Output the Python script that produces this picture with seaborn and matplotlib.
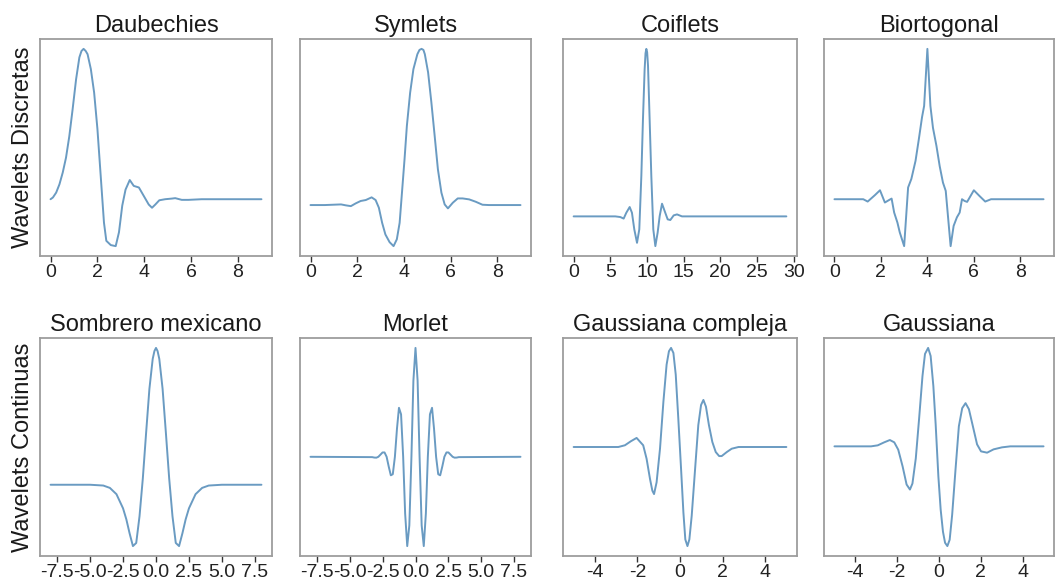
import matplotlib
matplotlib.use("Agg")
import matplotlib.pyplot as plt
import seaborn as sns

# ---------------- data ----------------
daub_x = [0.0, 0.10, 0.24, 0.38, 0.52, 0.66, 0.80, 0.94, 1.09, 1.23, 1.32, 1.41, 1.50, 1.58, 1.72, 1.86,
          2.00, 2.14, 2.28, 2.38, 2.57, 2.78, 2.92, 3.06, 3.20, 3.38, 3.55, 3.77, 3.98, 4.19,
          4.33, 4.47, 4.64, 4.89, 5.18, 5.32, 5.60, 5.88, 6.45, 9.0]
daub_y = [0.0, 0.016, 0.062, 0.14, 0.25, 0.39, 0.59, 0.84, 1.125, 1.33, 1.39, 1.41, 1.39, 1.36, 1.22, 1.0,
          0.66, 0.22, -0.22, -0.39, -0.43, -0.44, -0.31, -0.06, 0.09, 0.18, 0.125, 0.11, 0.03, -0.05,
          -0.08, -0.05, -0.01, 0.0, 0.006, 0.01, -0.006, -0.006, 0.0, 0.0]

sym_x = [0.0, 0.61, 1.31, 1.52, 1.73, 1.94, 2.15, 2.37, 2.62, 2.79, 2.93, 3.07, 3.21, 3.39,
         3.56, 3.70, 3.82, 3.92, 4.03, 4.13, 4.27, 4.41, 4.58, 4.67, 4.76, 4.84, 4.90, 5.04, 5.18, 5.32,
         5.46, 5.61, 5.75, 5.89, 6.10, 6.31, 6.52, 6.80, 7.08, 7.37, 7.65, 9.0]
sym_y = [0.0, 0.0, 0.006, -0.003, -0.01, 0.016, 0.038, 0.047, 0.072, 0.047, -0.025, -0.166, -0.275, -0.347,
         -0.384, -0.32, -0.166, 0.116, 0.428, 0.74, 1.05, 1.27, 1.41, 1.45, 1.46, 1.45, 1.41, 1.24, 0.96, 0.65,
         0.334, 0.116, 0.006, -0.031, 0.022, 0.062, 0.062, 0.053, 0.031, 0.003, 0.0, 0.0]

coif_x = [0.0, 5.68, 6.36, 6.82, 7.18, 7.64, 7.95, 8.27, 8.64, 8.95, 9.23, 9.45, 9.68, 9.80, 9.91,
          10.02, 10.14, 10.36, 10.59, 10.86, 11.14, 11.45, 11.73, 12.05, 12.41, 12.82, 13.18, 13.64,
          14.09, 14.77, 29.0]
coif_y = [0.0, 0.0, -0.006, -0.02, 0.033, 0.085, 0.033, -0.118, -0.24, -0.118, 0.367, 0.88, 1.336, 1.48, 1.52,
          1.49, 1.367, 0.88, 0.367, -0.118, -0.27, -0.148, 0.003, 0.115, 0.048, -0.027, -0.033, 0.009,
          0.018, 0.0, 0.0]

bior_x = [0.0, 1.24, 1.43, 1.74, 1.96, 2.17, 2.34, 2.46, 2.57, 2.71, 2.81, 3.0, 3.17, 3.31,
          3.49, 3.63, 3.77, 3.86, 4.0, 4.13, 4.24, 4.39, 4.53, 4.67, 4.79, 5.0, 5.13, 5.27,
          5.39, 5.49, 5.60, 5.71, 6.0, 6.24, 6.49, 6.74, 9.0]
bior_y = [0.0, 0.0, -0.022, 0.038, 0.084, -0.031, -0.009, 0.006, -0.125, -0.219, -0.31, -0.44, 0.11, 0.19,
          0.36, 0.56, 0.77, 0.875, 1.41, 0.875, 0.67, 0.5, 0.31, 0.156, 0.078, -0.44, -0.25, -0.17,
          -0.125, 0.0, -0.016, -0.025, 0.084, 0.031, -0.022, 0.0, 0.0]

mexh_x = [-8.0, -5.0, -4.0, -3.5, -3.0, -2.5, -2.25, -2.0, -1.75, -1.5, -1.25, -1.0, -0.75, -0.5, -0.25,
          -0.12, 0.0, 0.12, 0.25, 0.5, 0.75, 1.0, 1.25, 1.5, 1.75, 2.0, 2.25, 2.5, 3.0, 3.5, 4.0, 5.0, 8.0]
mexh_y = [0.0, 0.0, -0.005, -0.02, -0.06, -0.15, -0.22, -0.31, -0.39, -0.37, -0.20, 0.04, 0.33, 0.61, 0.80,
          0.85, 0.87, 0.85, 0.80, 0.61, 0.33, 0.04, -0.20, -0.37, -0.39, -0.31, -0.22, -0.15, -0.06, -0.02, -0.005, 0.0, 0.0]

morl_x = [-8.0, -3.30, -3.14, -2.98, -2.83, -2.67, -2.51, -2.36, -2.20, -2.04, -1.88, -1.73, -1.57,
          -1.41, -1.26, -1.10, -0.94, -0.79, -0.63, -0.47, -0.31, -0.16, 0.0, 0.16, 0.31, 0.47,
          0.63, 0.79, 0.94, 1.10, 1.26, 1.41, 1.57, 1.73, 1.88, 2.04, 2.20, 2.36, 2.51, 2.67,
          2.83, 2.98, 3.14, 3.30, 8.0]
morl_y = [0.0, -0.003, -0.007, -0.008, 0.0, 0.02, 0.04, 0.04, 0.0, -0.09, -0.17, -0.16, 0.0,
          0.26, 0.45, 0.39, 0.0, -0.52, -0.82, -0.63, 0.0, 0.70, 1.0, 0.70, 0.0, -0.63,
          -0.82, -0.52, 0.0, 0.39, 0.45, 0.26, 0.0, -0.16, -0.17, -0.09, 0.0, 0.04, 0.04, 0.02,
          0.0, -0.008, -0.007, -0.003, 0.0]

cgau_x = [-5.0, -2.90, -2.59, -2.31, -2.04, -1.73, -1.57, -1.41, -1.30, -1.22, -1.10, -0.94, -0.78,
          -0.63, -0.52, -0.42, -0.31, -0.20, -0.08, 0.05, 0.16, 0.25, 0.35, 0.44, 0.55, 0.71, 0.86,
          0.99, 1.10, 1.22, 1.36, 1.52, 1.68, 1.84, 1.96, 2.20, 2.43, 2.75, 5.0]
cgau_y = [0.0, 0.0, 0.017, 0.057, 0.09, 0.017, -0.117, -0.317, -0.433, -0.467, -0.35, -0.017, 0.45,
          0.817, 0.95, 0.983, 0.933, 0.717, 0.283, -0.217, -0.65, -0.917, -0.983, -0.917, -0.683, -0.217, 0.217,
          0.417, 0.467, 0.40, 0.217, 0.05, -0.05, -0.09, -0.09, -0.05, -0.017, 0.0, 0.0]

gaus_x = [-5.0, -3.25, -2.93, -2.62, -2.35, -2.14, -1.95, -1.74, -1.55, -1.39, -1.27, -1.11, -0.95,
          -0.79, -0.67, -0.52, -0.40, -0.27, -0.16, -0.03, 0.08, 0.19, 0.29, 0.40, 0.51, 0.63, 0.79,
          0.95, 1.11, 1.27, 1.43, 1.62, 1.82, 2.01, 2.30, 2.61, 3.01, 3.41, 5.0]
gaus_y = [0.0, 0.0, 0.01, 0.04, 0.063, 0.04, -0.033, -0.2, -0.38, -0.43, -0.37, -0.12, 0.28,
          0.70, 0.92, 0.98, 0.90, 0.60, 0.22, -0.30, -0.63, -0.85, -0.96, -0.993, -0.93, -0.68, -0.23,
          0.20, 0.38, 0.43, 0.37, 0.20, 0.02, -0.05, -0.063, -0.03, -0.01, 0.0, 0.0]

titles = ["Daubechies", "Symlets", "Coiflets", "Biortogonal",
          "Sombrero mexicano", "Morlet", "Gaussiana compleja", "Gaussiana"]
row_labels = ["Wavelets Discretas", "Wavelets Continuas"]

ticks_09 = [0, 2, 4, 6, 8]
ticks_coif = [0, 5, 10, 15, 20, 25, 30]
ticks_75 = [-7.5, -5.0, -2.5, 0.0, 2.5, 5.0, 7.5]
ticks_4 = [-4, -2, 0, 2, 4]
labels_09 = ["0", "2", "4", "6", "8"]
labels_coif = ["0", "5", "10", "15", "20", "25", "30"]
labels_75 = ["-7.5", "-5.0", "-2.5", "0.0", "2.5", "5.0", "7.5"]
labels_4 = ["-4", "-2", "0", "2", "4"]

series = [(daub_x, daub_y, ticks_09, labels_09),
          (sym_x, sym_y, ticks_09, labels_09),
          (coif_x, coif_y, ticks_coif, labels_coif),
          (bior_x, bior_y, ticks_09, labels_09),
          (mexh_x, mexh_y, ticks_75, labels_75),
          (morl_x, morl_y, ticks_75, labels_75),
          (cgau_x, cgau_y, ticks_4, labels_4),
          (gaus_x, gaus_y, ticks_4, labels_4)]

# ---------------- style ----------------
sns.set_theme(style="ticks")
plt.rcParams['font.family'] = ['Liberation Sans', 'DejaVu Sans']
plt.rcParams['axes.unicode_minus'] = False

LINE = "#6a9bc2"
SPINE = "#9d9d9d"

W, H = 1055, 586
fig = plt.figure(figsize=(W / 100, H / 100), dpi=100)

col_left = [40, 300, 563, 824]
col_width = [232, 231, 234, 230]
row_top = [39, 338]
row_bottom = [256, 556]

for i, (xs, ys, tks, tls) in enumerate(series):
    r, c = divmod(i, 4)
    l = col_left[c] / W
    b = 1 - row_bottom[r] / H
    w = col_width[c] / W
    h = (row_bottom[r] - row_top[r]) / H
    ax = fig.add_axes([l, b, w, h])
    sns.lineplot(x=xs, y=ys, ax=ax, color=LINE, linewidth=1.4)
    ax.set_yticks([])
    ax.set_xticks(tks)
    ax.set_xticklabels(tls, fontsize=14, color="#222222")
    ax.tick_params(axis="x", direction="out", length=4, width=1.0, color="#333333", pad=2)
    for sp in ax.spines.values():
        sp.set_color(SPINE)
        sp.set_linewidth(1.3)
    ax.set_title(titles[i], fontsize=17, pad=5, color="#1a1a1a")
    if c == 0:
        ax.set_ylabel(row_labels[r], fontsize=17, labelpad=4, color="#1a1a1a")

fig.savefig("out.png", dpi=100)
